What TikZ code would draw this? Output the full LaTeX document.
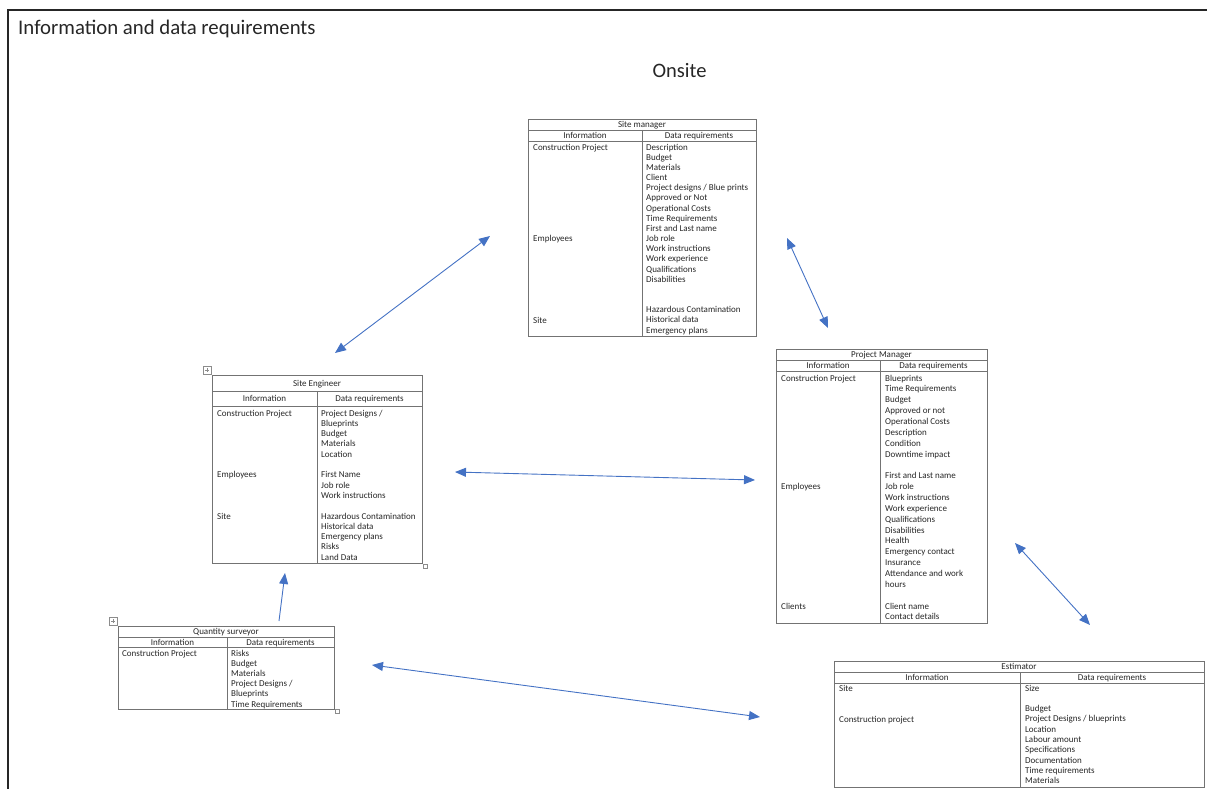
\documentclass[tikz,border=0pt]{standalone}
\usepackage{fontspec}
\setmainfont{Carlito}
\usepackage{tikz}
\usetikzlibrary{arrows.meta}

\definecolor{linkblue}{HTML}{4472C4}
\tikzset{
  tblline/.style={draw=black!55, line width=0.9pt},
  cell/.style={anchor=base west, inner sep=0pt, text=black!85, font=\fontsize{9}{10}\selectfont},
  headcell/.style={anchor=base, inner sep=0pt, text=black!85, font=\fontsize{9}{10}\selectfont},
  handle/.style={draw=black!45, line width=0.5pt},
  link/.style={linkblue, line width=0.9pt, {Triangle[length=11pt,width=9pt]}-{Triangle[length=11pt,width=9pt]}},
  uplink/.style={linkblue, line width=0.9pt, -{Triangle[length=11pt,width=9pt]}},
}

\begin{document}
\begin{tikzpicture}[x=1pt, y=-1pt]
        \useasboundingbox (0,0) rectangle (1207,789);

        % Frame and headings
        \draw[black!85, line width=1.6pt] (8,789) -- (8,10) -- (1207,10);
        \node[anchor=base west, inner sep=0pt, text=black!85, font=\fontsize{20.8}{24}\selectfont] (title) at (18,35) {Information and data requirements};
        \node[anchor=base, inner sep=0pt, text=black!85, font=\fontsize{20.5}{24}\selectfont] (onsite) at (679.5,78) {Onsite};

        % Site manager
        \draw[tblline] (528,119) rectangle (756,336);
        \draw[tblline] (528,130) -- (756,130);
        \draw[tblline] (528,141) -- (756,141);
        \draw[tblline] (642,130) -- (642,336);
        \node[headcell] (smTitle) at (642,128) {Site manager};
        \node[headcell] (smInfo) at (585,138.5) {Information};
        \node[headcell] (smData) at (699,138.5) {Data requirements};
        \node[cell] (smProject) at (533,150) {Construction Project};
        \node[cell] (smStaff) at (533,241.5) {Employees};
        \node[cell] (smSite) at (533,323) {Site};
        \foreach \t [count=\i] in {Description, Budget, Materials, Client,
            Project designs / Blue prints, Approved or Not, Operational Costs,
            Time Requirements, First and Last name, Job role, Work instructions,
            Work experience, Qualifications, Disabilities, {}, {},
            Hazardous Contamination, Historical data, Emergency plans}
          \node[cell] (smReq\i) at (646,{150+10.17*(\i-1)}) {\t};

        % Site Engineer
        \draw[handle] (203,366) rectangle (211,374);
        \draw[handle] (205,370) -- (209,370) (207,368) -- (207,372);
        \draw[handle] (423,564) rectangle (427,568);
        \draw[tblline] (212,375) rectangle (422,563);
        \draw[tblline] (212,391) -- (422,391);
        \draw[tblline] (212,406) -- (422,406);
        \draw[tblline] (317,391) -- (317,563);
        \node[headcell] (seTitle) at (317,386) {Site Engineer};
        \node[headcell] (seInfo) at (264.5,401.5) {Information};
        \node[headcell] (seData) at (369.5,401.5) {Data requirements};
        \node[cell] (seProject) at (217,416) {Construction Project};
        \node[cell] (seStaff) at (217,477.8) {Employees};
        \node[cell] (seSite) at (217,519) {Site};
        \foreach \t [count=\i] in {Project Designs /, Blueprints, Budget, Materials,
            Location, {}, First Name, Job role, Work instructions, {},
            Hazardous Contamination, Historical data, Emergency plans, Risks, Land Data}
          \node[cell] (seReq\i) at (321,{416+10.3*(\i-1)}) {\t};

        % Project Manager
        \draw[tblline] (776,349) rectangle (987,623);
        \draw[tblline] (776,360) -- (987,360);
        \draw[tblline] (776,371) -- (987,371);
        \draw[tblline] (880,360) -- (880,623);
        \node[headcell] (pmTitle) at (881.5,357.5) {Project Manager};
        \node[headcell] (pmInfo) at (828,368.5) {Information};
        \node[headcell] (pmData) at (933.5,368.5) {Data requirements};
        \node[cell] (pmProject) at (781,381) {Construction Project};
        \node[cell] (pmStaff) at (781,489.6) {Employees};
        \node[cell] (pmClients) at (781,609) {Clients};
        \foreach \t [count=\i] in {Blueprints, Time Requirements, Budget, Approved or not,
            Operational Costs, Description, Condition, Downtime impact, {},
            First and Last name, Job role, Work instructions, Work experience,
            Qualifications, Disabilities, Health, Emergency contact, Insurance,
            Attendance and work, hours, {}, Client name, Contact details}
          \node[cell] (pmReq\i) at (885,{381+10.86*(\i-1)}) {\t};

        % Quantity surveyor
        \draw[handle] (109,617) rectangle (117,625);
        \draw[handle] (111,621) -- (115,621) (113,619) -- (113,623);
        \draw[handle] (335,709) rectangle (339,713);
        \draw[tblline] (118,626) rectangle (334,709);
        \draw[tblline] (118,637) -- (334,637);
        \draw[tblline] (118,647) -- (334,647);
        \draw[tblline] (227,637) -- (227,709);
        \node[headcell] (qsTitle) at (226,634.5) {Quantity surveyor};
        \node[headcell] (qsInfo) at (172.5,645) {Information};
        \node[headcell] (qsData) at (280.5,645) {Data requirements};
        \node[cell] (qsProject) at (122,656) {Construction Project};
        \foreach \t [count=\i] in {Risks, Budget, Materials, Project Designs /,
            Blueprints, Time Requirements}
          \node[cell] (qsReq\i) at (231,{656+10.2*(\i-1)}) {\t};

        % Estimator
        \draw[tblline] (834,661) rectangle (1204,787);
        \draw[tblline] (834,672) -- (1204,672);
        \draw[tblline] (834,683) -- (1204,683);
        \draw[tblline] (1020,672) -- (1020,787);
        \node[headcell] (esTitle) at (1019,669.5) {Estimator};
        \node[headcell] (esInfo) at (927,680.5) {Information};
        \node[headcell] (esData) at (1112,680.5) {Data requirements};
        \node[cell] (esSite) at (839,691) {Site};
        \node[cell] (esProject) at (839,722) {Construction project};
        \foreach \t [count=\i] in {Size, {}, Budget, Project Designs / blueprints,
            Location, Labour amount, Specifications, Documentation,
            Time requirements, Materials}
          \node[cell] (esReq\i) at (1025,{691+10.33*(\i-1)}) {\t};

        % Arrow ends
        \coordinate (smWest) at (490,236);
        \coordinate (seNorth) at (335,353);
        \coordinate (smEast) at (787,238);
        \coordinate (pmNorth) at (828,328);
        \coordinate (seEast) at (455,472);
        \coordinate (pmWest) at (755,480);
        \coordinate (pmSouth) at (1015,543);
        \coordinate (esNorth) at (1090,625);
        \coordinate (qsNorth) at (279,621);
        \coordinate (seSouth) at (285,573);
        \coordinate (qsEast) at (372,665);
        \coordinate (esWest) at (760,717);

        % Arrows
        \draw[link] (seNorth) -- (smWest);
        \draw[link] (smEast) -- (pmNorth);
        \draw[link] (seEast) -- (pmWest);
        \draw[link] (pmSouth) -- (esNorth);
        \draw[uplink] (qsNorth) -- (seSouth);
        \draw[link] (qsEast) -- (esWest);

    \end{tikzpicture}
\end{document}
